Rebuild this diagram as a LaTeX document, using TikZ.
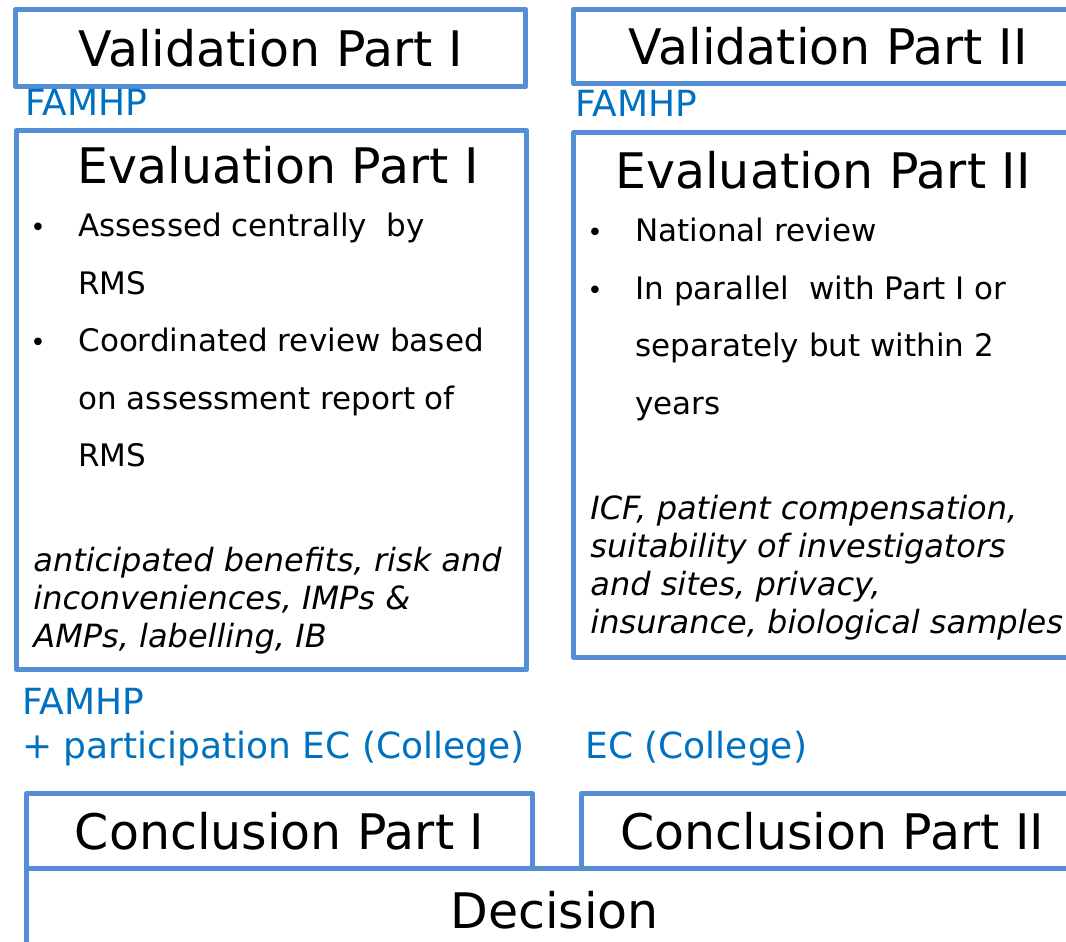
\documentclass[tikz,border=0pt]{standalone}
\usepackage{fontspec}
\setmainfont{DejaVu Sans}
\usepackage{xcolor}
\usepackage{tikz}

\definecolor{frameblue}{RGB}{85,142,213}
\definecolor{labelblue}{RGB}{0,112,192}

\tikzset{
  box/.style={draw=frameblue, line width=2.6pt, line join=round, rectangle,
    anchor=north west, inner sep=0pt, font=\fontsize{24.5}{29}\selectfont},
  title/.style={font=\fontsize{24.5}{29}\selectfont, inner sep=0pt, anchor=base},
  bodytext/.style={font=\fontsize{15.5}{28.75}\selectfont, align=left,
    inner sep=0pt, anchor=north west},
  notes/.style={font=\fontsize{16}{19}\selectfont\itshape, align=left,
    inner sep=0pt, anchor=north west},
  who/.style={text=labelblue, font=\fontsize{18}{22}\selectfont,
    inner sep=0pt, anchor=base west},
  dot/.style={font=\fontsize{13}{16}\selectfont, inner sep=0pt, anchor=base},
}

\begin{document}
\begin{tikzpicture}[x=0.5pt, y=-0.5pt]
\useasboundingbox (0,0) rectangle (1066,942);

% validation
\node[box, minimum width=255pt, minimum height=38.5pt] (valI) at (13,7) {Validation Part I};
\node[box, minimum width=254.5pt, minimum height=37pt] (valII) at (571,7) {Validation Part II};
\node[who] (famI) at (25,115) {FAMHP};
\node[who] (famII) at (575,116) {FAMHP};

% evaluation, part I
\node[box, minimum width=255pt, minimum height=269.5pt] (evalI) at (14,128) {};
\node[title] (evalIhead) at (278,183) {Evaluation Part I};
\node[dot] (bI1) at (38,236) {•};
\node[dot] (bI2) at (38,351) {•};
\node[bodytext] (listI) at (78,213) {Assessed centrally\ \ by\\RMS\\Coordinated review based\\on assessment report of\\RMS};
\node[notes] (notesI) at (33,547) {anticipated benefits, risk and\\inconveniences, IMPs \&\\AMPs, labelling, IB};

% evaluation, part II
\node[box, minimum width=254.5pt, minimum height=262.5pt] (evalII) at (571,130) {};
\node[title] (evalIIhead) at (823,188) {Evaluation Part II};
\node[dot] (bII1) at (595,241) {•};
\node[dot] (bII2) at (595,299) {•};
\node[bodytext] (listII) at (635,218) {National review\\In parallel\ \ with Part I or\\separately but within 2\\years};
\node[notes] (notesII) at (590,495) {ICF, patient compensation,\\suitability of investigators\\and sites, privacy,\\insurance, biological samples};

% who concludes
\node[who] (famIII) at (22,714) {FAMHP};
\node[who] (partic) at (22,758) {+ participation EC (College)};
\node[who] (college) at (585,758) {EC (College)};

% conclusion and decision
\node[box, minimum width=528pt, minimum height=42pt] (decision) at (24,866) {Decision};
\node[box, minimum width=253pt, minimum height=37.5pt] (conclI) at (24,791) {Conclusion Part I};
\node[box, minimum width=250.5pt, minimum height=37.5pt] (conclII) at (579,791) {Conclusion Part II};
\end{tikzpicture}
\end{document}
